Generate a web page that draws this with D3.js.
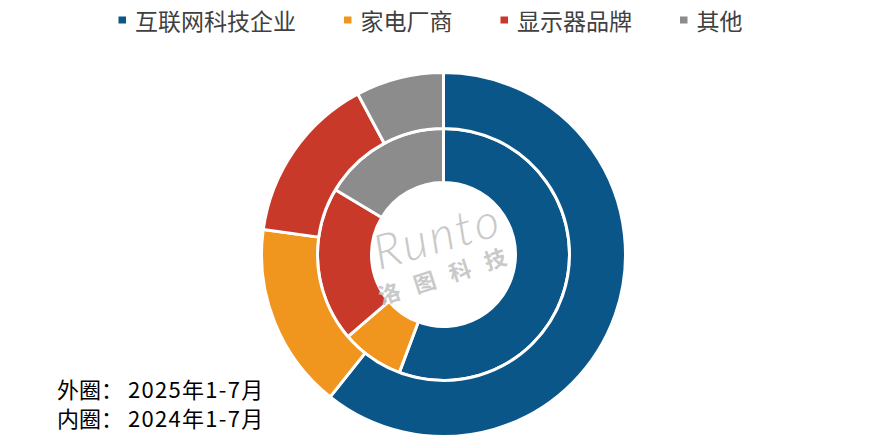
<!DOCTYPE html>
<html>
<head>
<meta charset="utf-8">
<script src="https://cdn.jsdelivr.net/npm/d3@7"></script>
<style>
  html, body { margin: 0; padding: 0; background: #fff; }
  svg { display: block; }
</style>
</head>
<body>
<svg id="chart" width="879" height="447"></svg>
<script>
// ---- data ----
const categories = ["互联网科技企业", "家电厂商", "显示器品牌", "其他"];
const colors = ["#0A5689", "#F0961E", "#C8392A", "#8C8C8C"];
const outer2025 = [60.7, 16.5, 15.0, 7.8];   // 外圈：2025年1-7月
const inner2024 = [55.7, 8.0, 19.9, 16.4];   // 内圈：2024年1-7月
const ringNames = ["外圈：", "内圈："];
const ringPeriods = ["2025年1-7月", "2024年1-7月"];

const svg = d3.select("#chart");
const cx = 443.5, cy = 254.5;
const font = "'Noto Sans CJK SC', 'Noto Sans', sans-serif";

const pie = d3.pie().sort(null).value(d => d.v).startAngle(0).endAngle(2 * Math.PI);
const color = d3.scaleOrdinal().domain(categories).range(colors);

const g = svg.append("g").attr("transform", `translate(${cx},${cy})`);

function ring(values, r0, r1, cls) {
  const arc = d3.arc().innerRadius(r0).outerRadius(r1);
  g.selectAll("path." + cls)
    .data(pie(values.map((v, i) => ({ v, c: categories[i] }))))
    .join("path")
    .attr("class", cls)
    .attr("d", arc)
    .attr("fill", d => color(d.data.c))
    .attr("stroke", "#fff")
    .attr("stroke-width", 3)
    .attr("stroke-linejoin", "miter");
}
ring(inner2024, 72, 126, "inner");
ring(outer2025, 126, 182, "outer");

// ---- watermark ----
const wm = svg.append("g").attr("fill", "#c4c4c4").attr("opacity", 0.9);
wm.append("text")
  .attr("transform", `translate(442,252) rotate(-16)`)
  .attr("text-anchor", "middle")
  .attr("font-family", "Lato, 'DejaVu Sans', sans-serif")
  .attr("font-weight", 300)
  .attr("font-style", "italic")
  .attr("font-size", 48)
  .attr("letter-spacing", 3)
  .text("Runto");
wm.append("text")
  .attr("transform", `translate(452,282) rotate(-18)`)
  .attr("text-anchor", "middle")
  .attr("font-family", font)
  .attr("font-weight", 700)
  .attr("font-size", 22)
  .attr("letter-spacing", 15)
  .text("洛图科技");

// ---- legend ----
const legend = svg.append("g");
let x = 118.5;
categories.forEach((c, i) => {
  legend.append("rect")
    .attr("x", x).attr("y", 16.5)
    .attr("width", 7.5).attr("height", 7)
    .attr("fill", color(c));
  const t = legend.append("text")
    .attr("x", x + 16.5).attr("y", 29.5)
    .attr("font-family", font)
    .attr("font-size", 23)
    .attr("fill", "#404040")
    .text(c);
  const w = t.node().getComputedTextLength();
  x = x + 16.5 + w + 48;
});

// ---- ring annotation ----
ringNames.forEach((s, i) => {
  const t = svg.append("text")
    .attr("x", 57).attr("y", 398 + i * 28.5)
    .attr("font-family", font)
    .attr("font-size", 22)
    .attr("fill", "#000");
  t.append("tspan").text(s);
  t.append("tspan").attr("x", 128).attr("letter-spacing", 1.3).text(ringPeriods[i]);
});
</script>
</body>
</html>
